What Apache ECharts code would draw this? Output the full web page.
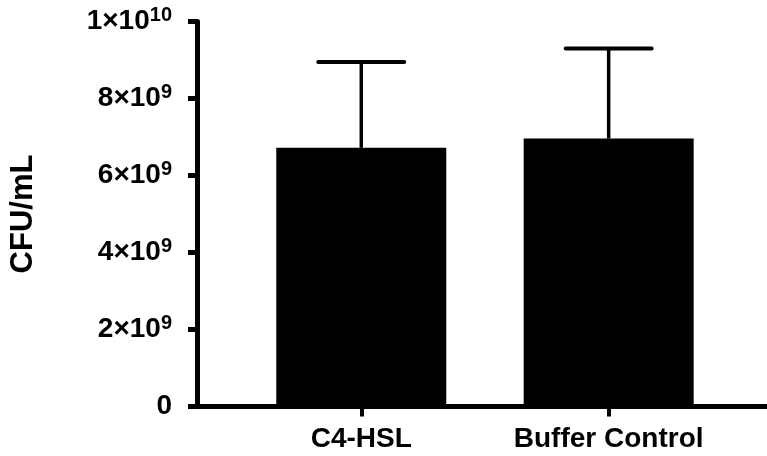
<!DOCTYPE html>
<html>
<head>
<meta charset="utf-8">
<script src="https://cdn.jsdelivr.net/npm/echarts@6/dist/echarts.min.js"></script>
<style>
  html, body { margin: 0; padding: 0; background: #fff; }
  #chart { width: 767px; height: 456px; }
</style>
</head>
<body>
<div id="chart"></div>
<script>
// ---- data ----
var categories = ['C4-HSL', 'Buffer Control'];
var means = [6.72e9, 6.96e9];
var sds = [2.23e9, 2.34e9];
var yTicks = [0, 2e9, 4e9, 6e9, 8e9, 1e10];
var yTitle = 'CFU/mL';

var FONT = '"Liberation Sans", Arial, Helvetica, sans-serif';

var barData = categories.map(function (c, i) { return [i, means[i]]; });
var errData = categories.map(function (c, i) { return [i, means[i], sds[i]]; });
var catIdx = categories.map(function (c, i) { return i; });

function sciLabel(v) {
  if (v === 0) return '{b|0}';
  var e = Math.floor(Math.log10(v) + 1e-9);
  var m = Math.round(v / Math.pow(10, e));
  return '{b|' + m + '×10}{s|' + e + '}';
}

var chart = echarts.init(document.getElementById('chart'), null, { renderer: 'canvas' });
chart.setOption({
  animation: false,
  backgroundColor: '#ffffff',
  grid: { left: 197, right: 0, top: 21.5, bottom: 49.5, containLabel: false, outerBoundsMode: 'none' },
  xAxis: {
    type: 'value',
    min: -0.664,
    max: 1.640,
    splitLine: { show: false },
    axisLine: { show: true, onZero: false, lineStyle: { color: '#000', width: 5 } },
    axisTick: { show: true, customValues: catIdx, length: 10, lineStyle: { color: '#000', width: 4 } },
    axisLabel: {
      customValues: catIdx,
      margin: 19,
      color: '#000',
      fontFamily: FONT,
      fontWeight: 'bold',
      fontSize: 28,
      formatter: function (v) { return categories[Math.round(v)]; }
    }
  },
  yAxis: {
    type: 'value',
    min: 0,
    max: 1e10,
    interval: 2e9,
    name: yTitle,
    nameLocation: 'middle',
    nameGap: 158,
    nameRotate: 90,
    nameTextStyle: { color: '#000', fontFamily: FONT, fontWeight: 'bold', fontSize: 31 },
    splitLine: { show: false },
    axisLine: { show: true, onZero: false, lineStyle: { color: '#000', width: 5 } },
    axisTick: { show: true, length: 9, lineStyle: { color: '#000', width: 5 } },
    axisLabel: {
      margin: 25,
      color: '#000',
      formatter: sciLabel,
      rich: {
        b: { fontFamily: FONT, fontWeight: 'bold', fontSize: 28, color: '#000', lineHeight: 32 },
        s: { fontFamily: FONT, fontWeight: 'bold', fontSize: 20, color: '#000', lineHeight: 20, verticalAlign: 'top' }
      }
    }
  },
  series: [
    {
      type: 'bar',
      data: barData,
      barWidth: 170,
      itemStyle: { color: '#000' },
      z: 2
    },
    {
      type: 'custom',
      data: errData,
      encode: { x: 0, y: 1 },
      z: 3,
      renderItem: function (params, api) {
        var x = api.value(0);
        var m = api.value(1);
        var s = api.value(2);
        var base = api.coord([x, m]);
        var top = api.coord([x, m + s]);
        var half = 43;
        return {
          type: 'group',
          children: [
            { type: 'line', shape: { x1: base[0], y1: base[1], x2: top[0], y2: top[1] },
              style: { stroke: '#000', lineWidth: 3.5 } },
            { type: 'line', shape: { x1: top[0] - half, y1: top[1], x2: top[0] + half, y2: top[1] },
              style: { stroke: '#000', lineWidth: 4, lineCap: 'round' } }
          ]
        };
      }
    }
  ]
});
</script>
</body>
</html>
